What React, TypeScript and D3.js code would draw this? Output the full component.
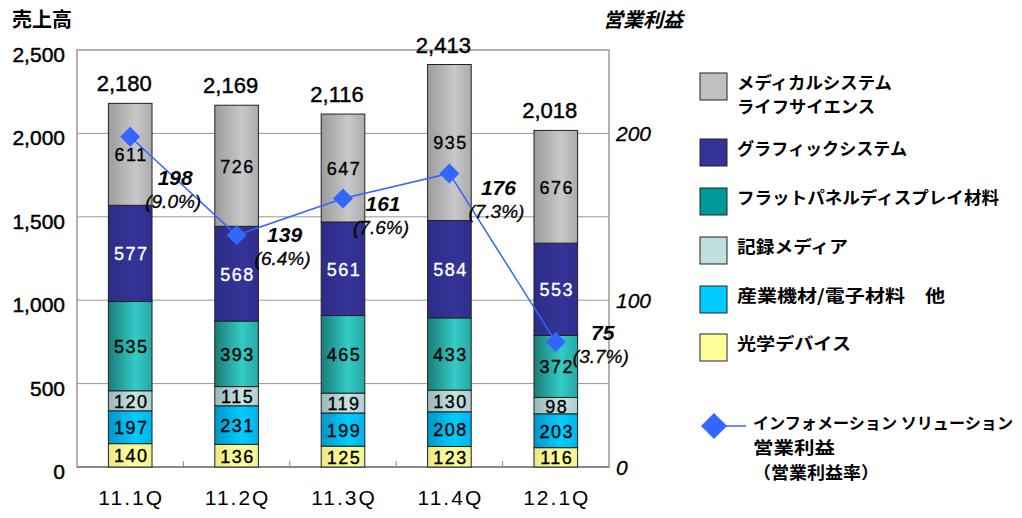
import React from "react";
import * as d3 from "d3";

const categories = ["11.1Q", "11.2Q", "11.3Q", "11.4Q", "12.1Q"];
const opticalDevices = [140, 136, 125, 123, 116];
const industrial = [197, 231, 199, 208, 203];
const recordingMedia = [120, 115, 119, 130, 98];
const flatPanel = [535, 393, 465, 433, 372];
const graphicSystems = [577, 568, 561, 584, 553];
const medical = [611, 726, 647, 935, 676];
const totals = [2180, 2169, 2116, 2413, 2018];
const operatingProfit = [198, 139, 161, 176, 75];
const profitMargin = ["9.0%", "6.4%", "7.6%", "7.3%", "3.7%"];
const leftTicks = [0, 500, 1000, 1500, 2000, 2500];
const rightTicks = [0, 100, 200];
const legendLabels = [
  ["光学デバイス"],
  ["産業機材/電子材料　他"],
  ["記録メディア"],
  ["フラットパネルディスプレイ材料"],
  ["グラフィックシステム"],
  ["メディカルシステム", "ライフサイエンス"],
];
const lineLegendLabels = ["インフォメーション ソリューション", "営業利益", "（営業利益率）"];

// layout / style constants
const labelOffsets = [
  [45, 0],
  [48, -41],
  [40, -35],
  [49, -26],
  [47, -50],
];
const legendY = [334, 286, 237, 188, 139, 73];
const legendWidths = [[114], [208], [111], [262], [170], [155, 138]];
const lineLegendWidths = [260, 82, 126];
const lineLegendSizes = [16, 17, 17];
const segStyles = [
  { id: "g0", stops: ["#ece888", "#ffff9c", "#f4f090"], text: "#000", legend: "#ffff99" },
  { id: "g1", stops: ["#0096c8", "#00ccff", "#00b4e6"], text: "#000", legend: "#00ccff" },
  { id: "g2", stops: ["#98b8ba", "#c8e2e2", "#b0cccc"], text: "#000", legend: "#c0e0e0" },
  { id: "g3", stops: ["#1a7c78", "#34cbc6", "#26a8a4"], text: "#000", legend: "#009999" },
  { id: "g4", stops: ["#2c2c88", "#343498", "#2e2e8e"], text: "#fff", legend: "#333399" },
  { id: "g5", stops: ["#9c9c9c", "#c8c8c8", "#ababab"], text: "#000", legend: "#c0c0c0" },
];

const JP = "'Noto Sans CJK JP', 'Noto Sans', sans-serif";
const NUM = "'Liberation Sans', Arial, sans-serif";

export default function App() {
  const W = 1022, H = 518;
  const left = 77, right = 609, top = 50, bottom = 467;
  const x = d3.scaleBand<string>().domain(categories).range([left, right]).paddingInner(0.59).paddingOuter(0.295);
  const y = d3.scaleLinear().domain([0, 2500]).range([bottom, top]);
  const y2 = d3.scaleLinear().domain([0, 250]).range([bottom, top]);
  const series = [opticalDevices, industrial, recordingMedia, flatPanel, graphicSystems, medical];
  const table = categories.map((c, i) => {
    const o: any = { cat: c };
    series.forEach((s, k) => (o["s" + k] = s[i]));
    return o;
  });
  const stack = d3.stack<any>().keys(series.map((_, k) => "s" + k))(table);
  const bw = x.bandwidth();
  const cx = (c: string) => (x(c) as number) + bw / 2;
  const line = d3.line<number>().x((_, i) => cx(categories[i])).y((d) => y2(d));
  const heavy = (c: string, w = 0.45) => ({ stroke: c, strokeWidth: w, paintOrder: "stroke" as any });

  return (
    <svg width={W} height={H} style={{ position: "absolute", left: 0, top: 0, background: "#fff" }}>
      <defs>
        {segStyles.map((s) => (
          <linearGradient key={s.id} id={s.id} x1="0" x2="1" y1="0" y2="0">
            <stop offset="0" stopColor={s.stops[0]} />
            <stop offset="0.62" stopColor={s.stops[1]} />
            <stop offset="1" stopColor={s.stops[2]} />
          </linearGradient>
        ))}
      </defs>
      {/* titles */}
      <text x={12} y={27} fontFamily={JP} fontWeight="bold" fontSize={20} fill="#000">売上高</text>
      <text x={603} y={27} fontFamily={JP} fontWeight="bold" fontStyle="italic" fontSize={20} fill="#000">営業利益</text>

      {/* gridlines */}
      {leftTicks.slice(1, -1).map((t) => (
        <line key={t} x1={left} x2={right} y1={y(t)} y2={y(t)} stroke="#999" strokeWidth={1} />
      ))}
      <rect x={left} y={top} width={right - left} height={bottom - top} fill="none" stroke="#999" strokeWidth={1.5} />
      <line x1={left} x2={right} y1={bottom} y2={bottom} stroke="#888" strokeWidth={2} />
      {categories.slice(1).map((c) => (
        <line key={c} x1={(x(c) as number) - (x.step() - bw) / 2} x2={(x(c) as number) - (x.step() - bw) / 2} y1={bottom} y2={bottom - 6} stroke="#888" strokeWidth={1} />
      ))}

      {/* left axis labels */}
      {leftTicks.map((t) => (
        <text key={t} x={65} y={y(t) + 12} textAnchor="end" fontFamily={NUM} fontSize={21} fill="#000" {...heavy("#000")}>
          {d3.format(",")(t)}
        </text>
      ))}
      {/* right axis labels */}
      {rightTicks.map((t) => (
        <text key={t} x={616} y={y2(t) + 8} fontFamily={NUM} fontStyle="italic" fontSize={21} fill="#000" {...heavy("#000", 0.3)}>
          {t}
        </text>
      ))}

      {/* bars */}
      {stack.map((layer, k) => (
        <g key={k}>
          {layer.map((d, i) => {
            const y0 = y(d[0]), y1 = y(d[1]);
            return (
              <g key={i}>
                <rect x={x(categories[i])} y={y1} width={bw} height={y0 - y1} fill={`url(#${segStyles[k].id})`} stroke="#222" strokeWidth={1} />
                <text x={cx(categories[i]) + 1} y={(y0 + y1) / 2 + 7} textAnchor="middle" fontFamily={NUM} fontSize={18} letterSpacing={1.5} fill={segStyles[k].text} {...heavy(segStyles[k].text, 0.35)}>
                  {series[k][i]}
                </text>
              </g>
            );
          })}
        </g>
      ))}
      {/* totals */}
      {totals.map((t, i) => (
        <text key={i} x={cx(categories[i]) - 6} y={y(t) - 12} textAnchor="middle" fontFamily={NUM} fontSize={22} fill="#000" {...heavy("#000")}>
          {d3.format(",")(t)}
        </text>
      ))}

      {/* x labels */}
      {categories.map((c) => (
        <text key={c} x={cx(c) + 1} y={505} textAnchor="middle" fontFamily={NUM} fontSize={21} letterSpacing={2} fill="#000">
          {c}
        </text>
      ))}

      {/* profit line */}
      <path d={line(operatingProfit) as string} fill="none" stroke="#3366ff" strokeWidth={1.5} />
      {operatingProfit.map((v, i) => {
        const px = cx(categories[i]), py = y2(v);
        return <path key={i} d={`M${px},${py - 10}L${px + 10},${py}L${px},${py + 10}L${px - 10},${py}Z`} fill="#3366ff" />;
      })}
      {operatingProfit.map((v, i) => {
        const px = cx(categories[i]) + labelOffsets[i][0];
        const py = y2(v) + labelOffsets[i][1];
        return (
          <g key={i}>
            <text x={px} y={py + 48} textAnchor="middle" fontFamily={NUM} fontStyle="italic" fontWeight="bold" fontSize={21} fill="#000">{v}</text>
            <text x={px - 2} y={py + 71} textAnchor="middle" fontFamily={NUM} fontStyle="italic" fontSize={19} fill="#000" {...heavy("#000", 0.3)}>({profitMargin[i]})</text>
          </g>
        );
      })}

      {/* legend */}
      {legendLabels.map((lines, k) => (
        <g key={k}>
          <rect x={700} y={legendY[k]} width={27} height={27} fill={segStyles[k].legend} stroke="#222" strokeWidth={1} />
          {lines.map((l, j) => (
            <text key={j} x={737} y={legendY[k] + 16 + j * 24} fontFamily={JP} fontWeight="bold" fontSize={17} fill="#000" textLength={legendWidths[k][j]} lengthAdjust="spacingAndGlyphs">{l}</text>
          ))}
        </g>
      ))}
      <line x1={714} x2={746} y1={426} y2={426} stroke="#3366ff" strokeWidth={1.5} />
      <path d="M714,413L727,426L714,439L701,426Z" fill="#3366ff" />
      {lineLegendLabels.map((l, j) => (
        <text key={j} x={753} y={429 + j * 25} fontFamily={JP} fontWeight="bold" fontSize={lineLegendSizes[j]} fill="#000" textLength={lineLegendWidths[j]} lengthAdjust="spacingAndGlyphs">{l}</text>
      ))}
    </svg>
  );
}
